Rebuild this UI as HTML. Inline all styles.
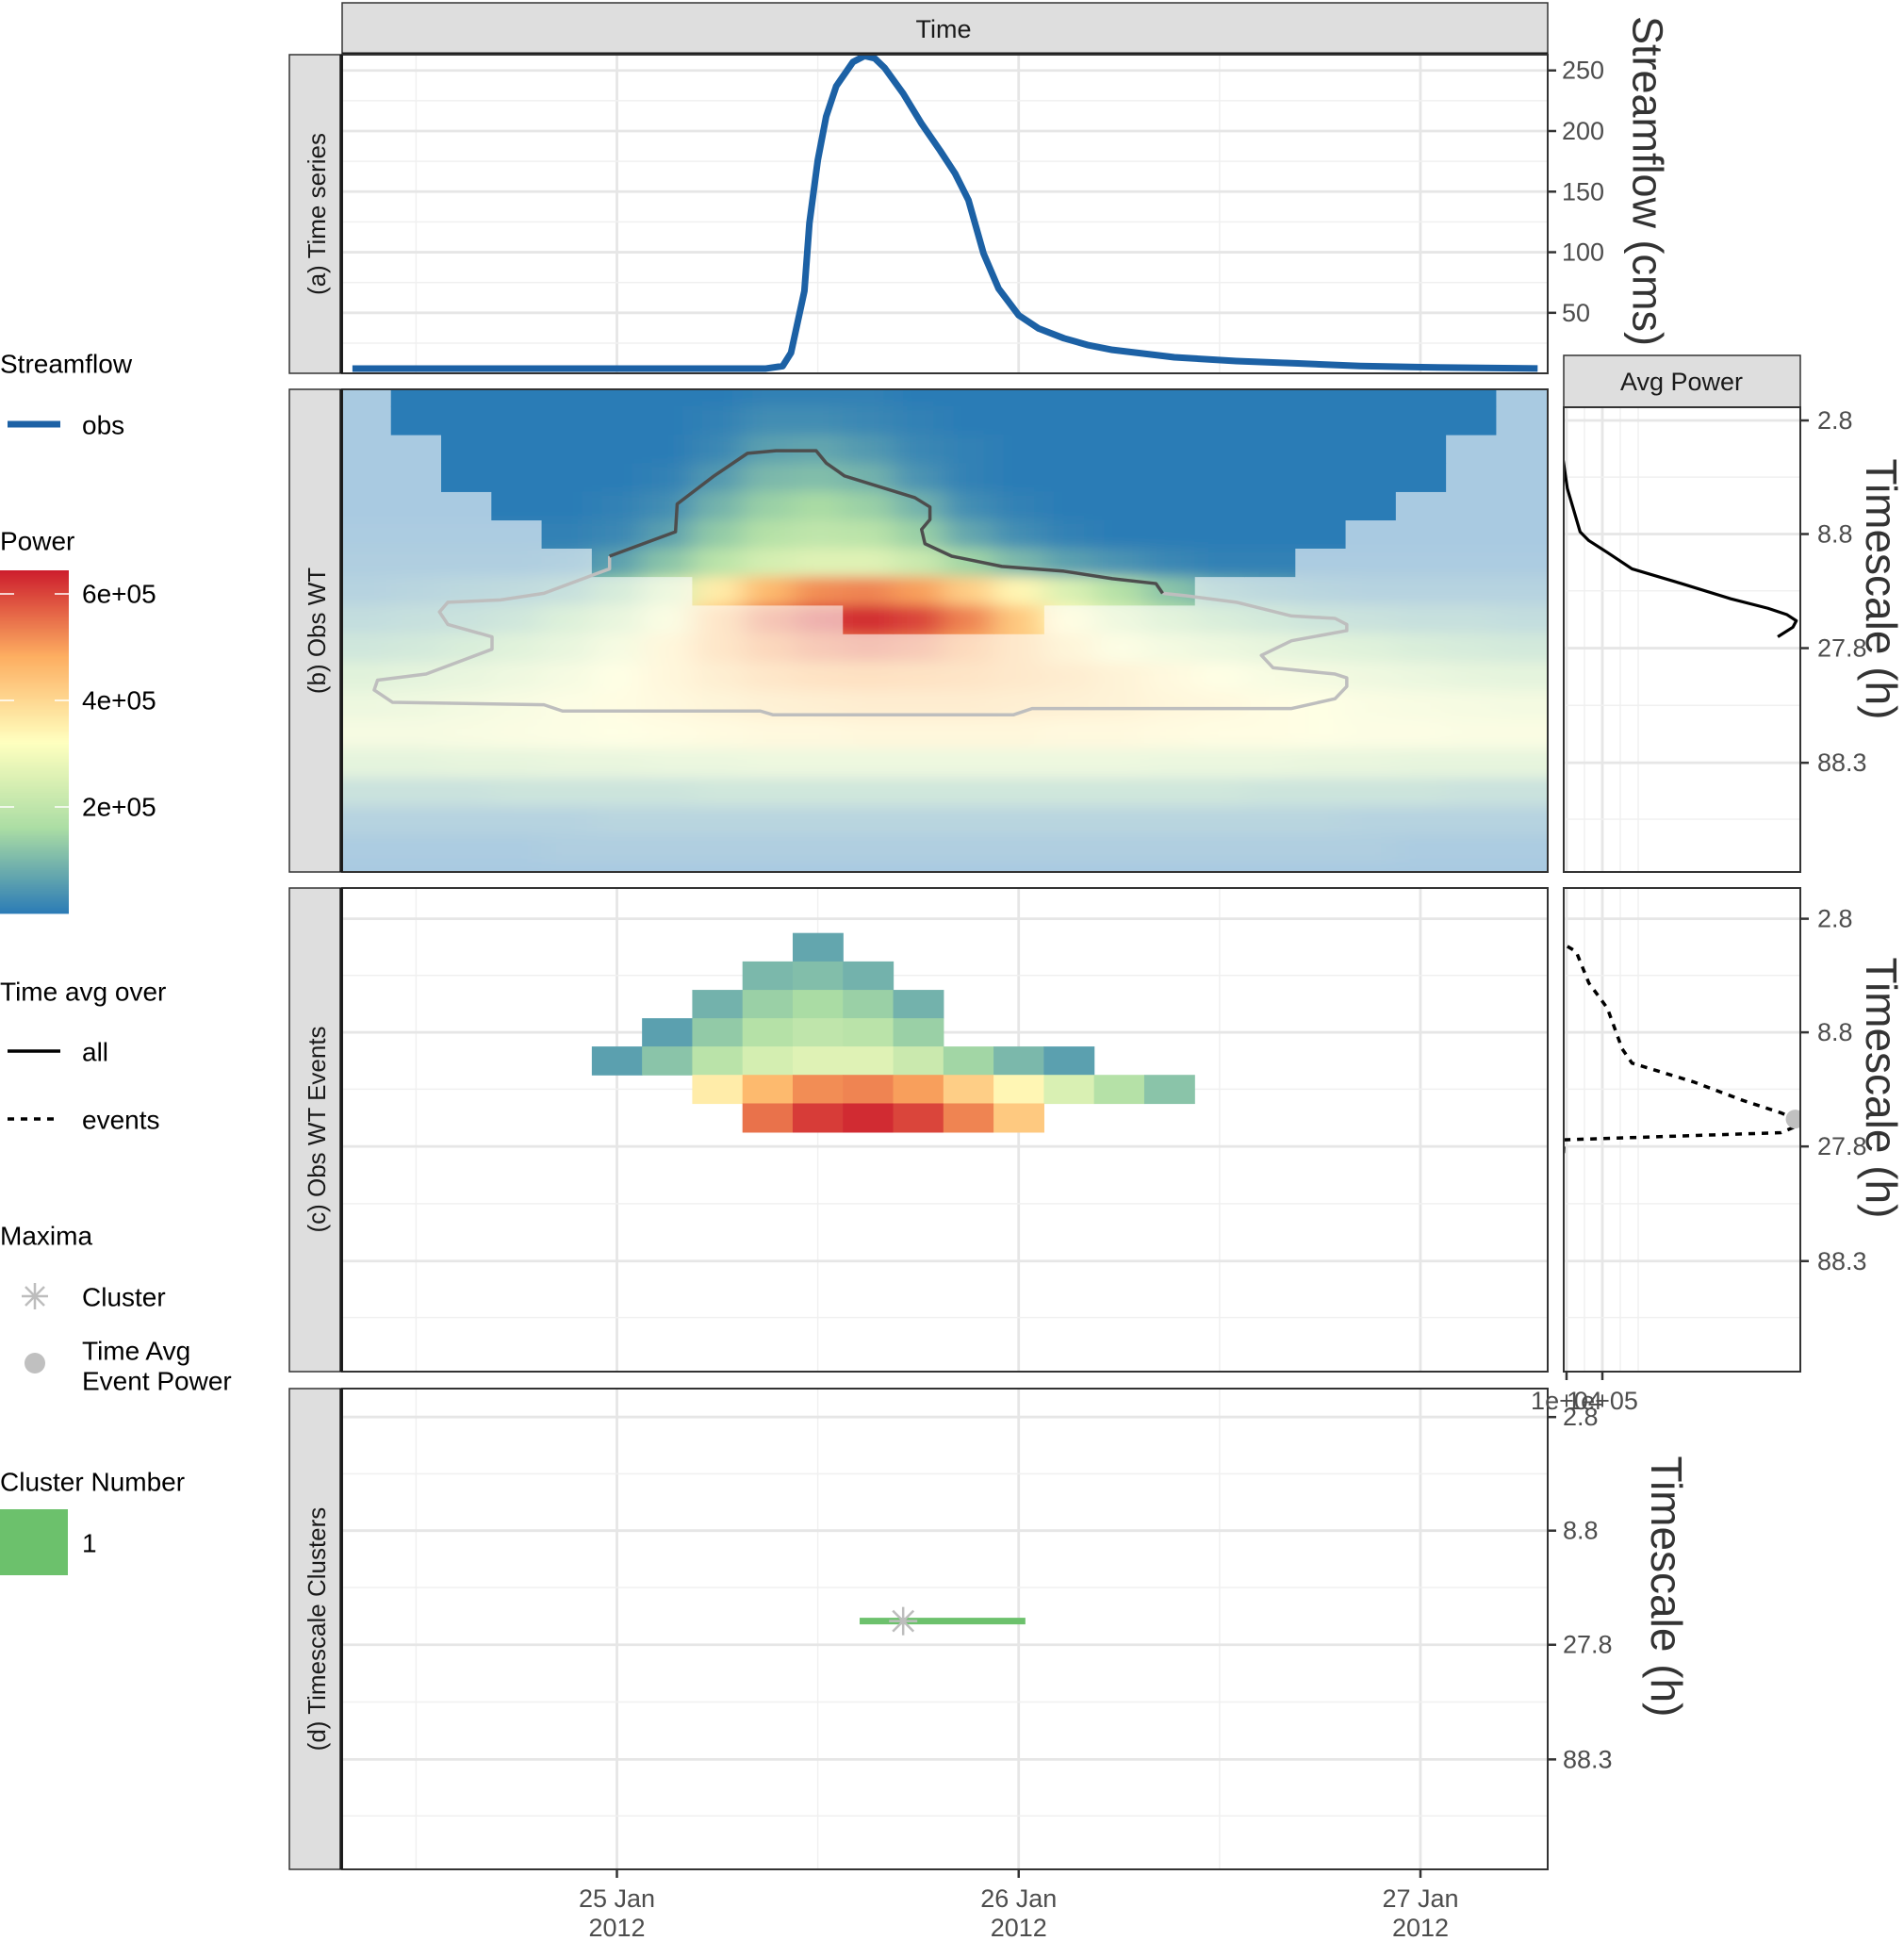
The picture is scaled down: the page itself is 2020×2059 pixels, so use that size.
<!DOCTYPE html>
<html><head><meta charset="utf-8"><style>
html,body{margin:0;padding:0;background:#fff;}
svg{display:block;font-family:"Liberation Sans",Arial,sans-serif;}
</style></head><body>
<svg id="chart" width="2020" height="2059" viewBox="0 0 2020 2059" xmlns="http://www.w3.org/2000/svg">
<defs>
<clipPath id="clipA"><rect x="363" y="58" width="1279" height="338"/></clipPath>
<clipPath id="clipB"><rect x="363" y="413" width="1279" height="512"/></clipPath>
<clipPath id="clipC"><rect x="363" y="942" width="1279" height="513"/></clipPath>
<clipPath id="clipD"><rect x="363" y="1473" width="1279" height="510"/></clipPath>
<clipPath id="clipAvgB"><rect x="1659" y="432" width="251" height="493"/></clipPath>
<clipPath id="clipAvgC"><rect x="1659" y="942" width="251" height="513"/></clipPath>
<clipPath id="coneB"></clipPath>
<filter id="blurB" filterUnits="userSpaceOnUse" x="250" y="300" width="1500" height="750"><feGaussianBlur stdDeviation="16 7"/></filter>
</defs>

<rect x="363" y="3" width="1279" height="55" fill="#dedede" stroke="#333" stroke-width="1.5"/>
<text x="1001" y="31" font-size="27" fill="#1a1a1a" text-anchor="middle" dominant-baseline="central">Time</text>
<line x1="363" y1="57" x2="1642" y2="57" stroke="#1a1a1a" stroke-width="3"/>

<rect x="307" y="58" width="56" height="338" fill="#dedede" stroke="#333" stroke-width="1.5"/>
<rect x="307" y="413" width="56" height="512" fill="#dedede" stroke="#333" stroke-width="1.5"/>
<rect x="307" y="942" width="56" height="513" fill="#dedede" stroke="#333" stroke-width="1.5"/>
<rect x="307" y="1473" width="56" height="510" fill="#dedede" stroke="#333" stroke-width="1.5"/>
<text transform="translate(336,227) rotate(-90)" font-size="26" fill="#1a1a1a" text-anchor="middle" dominant-baseline="central">(a)  Time series</text>
<text transform="translate(336,669) rotate(-90)" font-size="26" fill="#1a1a1a" text-anchor="middle" dominant-baseline="central">(b)  Obs WT</text>
<text transform="translate(336,1198) rotate(-90)" font-size="26" fill="#1a1a1a" text-anchor="middle" dominant-baseline="central">(c) Obs WT Events</text>
<text transform="translate(336,1728) rotate(-90)" font-size="26" fill="#1a1a1a" text-anchor="middle" dominant-baseline="central">(d) Timescale Clusters</text>

<rect x="1659" y="377" width="251" height="55" fill="#dedede" stroke="#333" stroke-width="1.5"/>
<text x="1784" y="405" font-size="27" fill="#1a1a1a" text-anchor="middle" dominant-baseline="central">Avg Power</text>

<g id="layer"></g>

<text transform="translate(1748,192) rotate(90)" font-size="45" fill="#333" text-anchor="middle" dominant-baseline="central">Streamflow (cms)</text>
<text transform="translate(1996,625) rotate(90)" font-size="46" fill="#333" text-anchor="middle" dominant-baseline="central">Timescale (h)</text>
<text transform="translate(1996,1154) rotate(90)" font-size="46" fill="#333" text-anchor="middle" dominant-baseline="central">Timescale (h)</text>
<text transform="translate(1768,1683) rotate(90)" font-size="46" fill="#333" text-anchor="middle" dominant-baseline="central">Timescale (h)</text>

<g font-size="28" fill="#000">
<text x="0" y="386" dominant-baseline="central">Streamflow</text>
<line x1="8" y1="450" x2="64" y2="450" stroke="#1c61a5" stroke-width="7"/>
<text x="87" y="451" dominant-baseline="central">obs</text>
<text x="0" y="574" dominant-baseline="central">Power</text>
<g id="colorbar"></g>
<text x="87" y="630" dominant-baseline="central">6e+05</text>
<text x="87" y="743" dominant-baseline="central">4e+05</text>
<text x="87" y="856" dominant-baseline="central">2e+05</text>
<text x="0" y="1052" dominant-baseline="central">Time avg over</text>
<line x1="8" y1="1115" x2="64" y2="1115" stroke="#000" stroke-width="3.5"/>
<text x="87" y="1116" dominant-baseline="central">all</text>
<line x1="8" y1="1187" x2="64" y2="1187" stroke="#000" stroke-width="3.5" stroke-dasharray="7 7"/>
<text x="87" y="1188" dominant-baseline="central">events</text>
<text x="0" y="1311" dominant-baseline="central">Maxima</text>
<g stroke="#bdbdbd" stroke-width="2.5">
<line x1="37" y1="1361" x2="37" y2="1389"/><line x1="23" y1="1375" x2="51" y2="1375"/><line x1="27" y1="1365" x2="47" y2="1385"/><line x1="27" y1="1385" x2="47" y2="1365"/></g>
<text x="87" y="1376" dominant-baseline="central">Cluster</text>
<circle cx="37" cy="1446" r="11" fill="#c0c0c0"/>
<text x="87" y="1433" dominant-baseline="central">Time Avg</text>
<text x="87" y="1465" dominant-baseline="central">Event Power</text>
<text x="0" y="1572" dominant-baseline="central">Cluster Number</text>
<rect x="0" y="1601" width="72" height="70" fill="#6cc16c"/>
<text x="87" y="1637" dominant-baseline="central">1</text>
</g>
</svg>
<script>
const flowHours = [-15.8,8.9,9.9,10.4,11.2,11.5,12.0,12.5,13.1,14.1,14.8,15.4,16.0,17.1,18.2,19.3,20.2,21.0,21.9,22.8,24.0,25.2,26.7,28.1,29.6,33.3,37.0,40.7,44.4,48.1,55.0];
const flowValues = [4,4,6,17,68,124,176,212,237,257,262,260,252,231,206,184,165,143,99,70,48,37,29,23.5,19.4,13.3,10.2,8.2,6.1,5.1,4.1];
const flowTicks = [50,100,150,200,250];
const scaleTicks = [2.8,8.8,27.8,88.3];
const scaleTickLabels = ["2.8","8.8","27.8","88.3"];
const dayTicks = [0,24,48];
const dayLabels = ["25 Jan","26 Jan","27 Jan"];
const colHours = [-15,-12,-9,-6,-3,0,3,6,9,12,15,18,21,24,27,30,33,36,39,42,45,48,51,54];
const rowScales = [2.1,2.8,3.73,4.97,6.62,8.8,11.7,15.6,20.8,27.8,37,49.3,65.7,88.3,118,157,209,279];
const power = [
[0,0,0,0,0,0,0,0,1,1,1,0,0,0,0,0,0,0,0,0,0,0,0,0],
[0,0,0,0,0,0,0,1,3,3,2,1,0,0,0,0,0,0,0,0,0,0,0,0],
[0,0,0,0,0,0,0,2,6,7,5,2,1,0,0,0,0,0,0,0,0,0,0,0],
[0,0,0,0,0,0,1,5,10,11,9,4,1,0,0,0,0,0,0,0,0,0,0,0],
[0,0,0,0,0,1,3,9,14,16,14,9,3,1,0,0,0,0,0,0,0,0,0,0],
[1,1,1,1,1,2,6,13,18,20,19,14,7,3,1,0,0,0,0,0,0,0,0,0],
[2,2,2,2,3,6,12,19,24,26,26,22,15,10,6,4,2,1,1,1,1,1,1,1],
[4,5,6,7,9,14,24,36,46,52,53,50,42,34,25,18,12,8,6,5,4,4,4,4],
[8,9,10,12,16,22,30,44,55,61,63,60,53,43,33,25,19,15,13,11,10,9,9,8],
[12,13,15,18,22,28,36,44,50,54,56,54,49,43,37,31,27,24,21,19,17,15,14,13],
[18,20,22,25,28,32,36,40,44,46,47,46,45,43,41,38,35,32,29,27,25,23,21,20],
[24,25,27,29,31,33,35,37,39,40,41,41,41,40,39,38,36,35,33,32,30,29,28,27],
[28,28,29,30,31,32,33,34,35,35,36,36,36,36,35,35,34,33,33,32,31,31,30,30],
[20,20,21,21,22,22,23,23,24,24,24,24,24,24,24,24,23,23,23,22,22,21,21,21],
[10,10,10,11,11,11,11,12,12,12,12,12,12,12,12,12,12,12,11,11,11,11,10,10],
[4,4,4,4,4,5,5,5,5,5,5,5,5,5,5,5,5,5,5,5,4,4,4,4],
[1,1,1,1,2,2,2,2,2,2,2,2,2,2,2,2,2,2,2,2,2,1,1,1],
[0,0,0,0,0,0,0,0,0,0,0,0,0,0,0,0,0,0,0,0,0,0,0,0]];
const coiScale = [1.0,3.1,5.3,7.5,9.6,11.8,13.9,16,18.2,20.4,22.5,24.7,24.7,22.6,20.4,18.3,16.1,14,11.8,9.6,7.5,5.4,3.2,1.1];
const eventMin = [99,99,99,99,99,10,8,5.5,4.5,3.6,3.8,6.3,11,11,11.5,13,14,99,99,99,99,99,99,99];
const eventMax = [0,0,0,0,0,13,14,17,21,22,24,26,25,21.5,19,18,17,0,0,0,0,0,0,0];
const eventContourH = [-0.44,3.5,3.6,5.8,7.8,9.5,11.9,12.5,13.6,17.8,18.7,18.7,18.2,18.4,20.0,23.0,26.7,29.6,32.2,32.6];
const eventContourS = [11.0,8.6,6.5,4.9,3.9,3.8,3.8,4.3,4.9,6.1,6.7,7.6,8.4,9.7,11.0,12.2,12.8,13.8,14.5,16.0];
const signifContourH = [-0.44,-0.44,-4.36,-6.94,-10.1,-10.6,-10.1,-7.46,-7.46,-11.4,-14.3,-14.5,-13.4,-4.36,-3.25,8.57,9.31,23.7,24.8,40.3,42.9,43.6,43.6,42.9,39.2,38.5,40.3,43.6,43.6,42.9,40.3,37.0,34.0,32.6];
const signifContourS = [11.0,12.5,16.0,17.1,17.5,19.3,21.9,24.8,28.1,36.1,38.4,42.4,48.0,49.2,52.4,52.4,54.4,54.4,51.1,51.1,46.3,40.9,37.5,36.1,33.9,29.9,25.8,23.3,21.9,20.6,20.1,17.5,16.4,16.0];
const avgAllScale = [2.47,4.07,5.56,6.7,8.6,9.4,10.6,12.5,14.5,16.9,18.6,19.8,21.1,22.5,24.8];
const avgAllPower = [4.9e3,6e3,1.1e4,1.9e4,3.3e4,5.5e4,1.2e5,2.45e5,6.3e5,1.19e6,1.73e6,2.04e6,2.21e6,2.15e6,1.89e6];
const avgEvtScale = [3.7,3.9,5.35,6.9,10.4,12.0,14.5,17.5,19.8,21.1,23.0,24.2,26.0,41.8,265];
const avgEvtPower = [1.1e4,2.5e4,5.5e4,1.2e5,1.9e5,2.45e5,7.5e5,1.36e6,1.94e6,2.19e6,2.15e6,1.94e6,7.2e3,4.9e3,4.9e3];
const avgTicks = [1e4,1e5];
const avgTickLabels = ["1e+04","1e+05"];
const clusterStartH = [14.5];
const clusterEndH = [24.4];
const clusterScale = [21.9];
const clusterMaxH = [17.1];
const eventMaxPower = [2.19e6];
const eventMaxScale = [21.1];

const NS = "http://www.w3.org/2000/svg";
const xT = h => 654.5 + 17.76*h;
const yQ = v => 396.1 - 1.2855*v;
const base = {b:446.0, c:974.6, d:1503.2};
const yS = (s,p) => base[p] + 242.3*Math.log10(s/2.8);
const xP = P => 1644.4 + 0.1758*Math.sqrt(P);
const PMAX = 64.4;
const stops = [[0,[43,123,182]],[0.25,[171,221,164]],[0.5,[255,255,191]],[0.75,[253,174,97]],[1,[205,30,45]]];
function col(v){
  let f = Math.max(0, Math.min(1, v/PMAX));
  for (let i=0;i<stops.length-1;i++){
    const [a,ca]=stops[i],[b,cb]=stops[i+1];
    if (f<=b){const t=(f-a)/(b-a);return "rgb("+ca.map((c,k)=>Math.round(c+(cb[k]-c)*t)).join(",")+")";}
  }
  return "rgb(205,30,45)";
}
function mk(tag, attrs, parent){
  const e=document.createElementNS(NS,tag);
  for(const k in attrs)e.setAttribute(k,attrs[k]);
  (parent||layer).appendChild(e);return e;
}
const layer=document.getElementById('layer');
const GMAJ="#e6e6e6", GMIN="#f0f0f0";

function rowEdges(i,p){
  const y=yS(rowScales[i],p);
  const up = i>0 ? (y - yS(rowScales[i-1],p))/2 : 15.1;
  const dn = i<rowScales.length-1 ? (yS(rowScales[i+1],p)-y)/2 : 15.1;
  return [y-up, y+dn];
}
function colEdges(j){
  let x0=xT(colHours[j]-1.5), x1=xT(colHours[j]+1.5);
  if(j===0)x0-=60; if(j===colHours.length-1)x1+=60;
  return [x0,x1];
}

function panelGrid(x0,y0,w,h,p,hasTime){
  mk('rect',{x:x0,y:y0,width:w,height:h,fill:'#fff'});
  const g=mk('g',{});
  if(hasTime){
    [-12,12,36].forEach(t=>mk('line',{x1:xT(t),x2:xT(t),y1:y0,y2:y0+h,stroke:GMIN,'stroke-width':1.5},g));
    dayTicks.forEach(t=>mk('line',{x1:xT(t),x2:xT(t),y1:y0,y2:y0+h,stroke:GMAJ,'stroke-width':2.8},g));
  }
  if(p){
    [4.96,15.6,49.5,156].forEach(s=>mk('line',{x1:x0,x2:x0+w,y1:yS(s,p),y2:yS(s,p),stroke:GMIN,'stroke-width':1.5},g));
    scaleTicks.forEach(s=>mk('line',{x1:x0,x2:x0+w,y1:yS(s,p),y2:yS(s,p),stroke:GMAJ,'stroke-width':2.8},g));
  }
  return g;
}
const gA = panelGrid(363,58,1279,338,null,true);


[25,75,125,175,225].forEach(v=>mk('line',{x1:363,x2:1642,y1:yQ(v),y2:yQ(v),stroke:GMIN,'stroke-width':1.5}));
flowTicks.forEach(v=>mk('line',{x1:363,x2:1642,y1:yQ(v),y2:yQ(v),stroke:GMAJ,'stroke-width':2.8}));
const flowPath = mk('polyline',{points:flowHours.map((h,i)=>xT(h)+","+yQ(flowValues[i])).join(" "),fill:'none',stroke:'#1c61a5','stroke-width':7,'stroke-linejoin':'round','clip-path':'url(#clipA)'});


flowTicks.forEach(v=>{
  mk('line',{x1:1642,x2:1651,y1:yQ(v),y2:yQ(v),stroke:'#333','stroke-width':2.5});
  const t=mk('text',{x:1657,y:yQ(v),'font-size':27,fill:'#4d4d4d','dominant-baseline':'central'});t.textContent=v;
  
  
});
mk('rect',{x:363,y:58,width:1279,height:338,fill:'none',stroke:'#333','stroke-width':2});

const gB = mk('g',{'clip-path':'url(#clipB)'});


mk('rect',{x:300,y:380,width:1400,height:600,fill:'#fff'},gB);
const faded = mk('g',{opacity:0.4,filter:'url(#blurB)'},gB);
const coneClip = document.getElementById('coneB');
const innerWrap = mk('g',{'clip-path':'url(#coneB)'},gB);
const inner = mk('g',{filter:'url(#blurB)'},innerWrap);
for(let i=0;i<rowScales.length;i++){
  let [ya,yb]=rowEdges(i,'b'); if(i===0)ya-=40; if(i===rowScales.length-1)yb+=40;
  for(let j=0;j<colHours.length;j++){
    const [xa,xb]=colEdges(j);
    const a={x:xa,y:ya,width:xb-xa+0.6,height:yb-ya+0.6,fill:col(power[i][j])};
    const c1=mk('rect',a,faded);
    
    
    mk('rect',a,inner);
    if(rowScales[i]<=coiScale[j]){
      const [ra,rb]=rowEdges(i,'b');
      const xa2=xT(colHours[j]-1.5), xb2=xT(colHours[j]+1.5);
      mk('rect',{x:xa2,y:(i===0?ra-40:ra),width:xb2-xa2+0.5,height:rb-(i===0?ra-40:ra)+0.5},coneClip);
    }
  }
}
const sig = mk('polyline',{points:signifContourH.map((h,i)=>xT(h)+","+yS(signifContourS[i],'b')).join(" "),fill:'none',stroke:'#bebebe','stroke-width':3.5,'stroke-linejoin':'round'},gB);


const evc = mk('polyline',{points:eventContourH.map((h,i)=>xT(h)+","+yS(eventContourS[i],'b')).join(" "),fill:'none',stroke:'#4d4d4d','stroke-width':3.5,'stroke-linejoin':'round'},gB);


mk('rect',{x:363,y:413,width:1279,height:512,fill:'none',stroke:'#333','stroke-width':2});

panelGrid(363,942,1279,513,'c',true);
const gC = mk('g',{'clip-path':'url(#clipC)'});


for(let i=0;i<rowScales.length;i++){
  const [ya,yb]=rowEdges(i,'c');
  for(let j=0;j<colHours.length;j++){
    if(rowScales[i]>=eventMin[j] && rowScales[i]<=eventMax[j]){
      const xa=xT(colHours[j]-1.5), xb=xT(colHours[j]+1.5);
      const r=mk('rect',{x:xa,y:ya,width:xb-xa+0.6,height:yb-ya+0.6,fill:col(power[i][j])},gC);
      
      
    }
  }
}
mk('rect',{x:363,y:942,width:1279,height:513,fill:'none',stroke:'#333','stroke-width':2});

panelGrid(363,1473,1279,510,'d',true);
for(let k=0;k<clusterStartH.length;k++){
  const cl=mk('line',{x1:xT(clusterStartH[k]),x2:xT(clusterEndH[k]),y1:yS(clusterScale[k],'d'),y2:yS(clusterScale[k],'d'),stroke:'#6cc16c','stroke-width':7});
  
  
  const cx=xT(clusterMaxH[k]), cy=yS(clusterScale[k],'d');
  const st=mk('g',{stroke:'#bdbdbd','stroke-width':2.5});
  
  
  mk('line',{x1:cx,x2:cx,y1:cy-15,y2:cy+15},st);
  mk('line',{x1:cx-15,x2:cx+15,y1:cy,y2:cy},st);
  mk('line',{x1:cx-11,x2:cx+11,y1:cy-11,y2:cy+11},st);
  mk('line',{x1:cx-11,x2:cx+11,y1:cy+11,y2:cy-11},st);
}
mk('rect',{x:363,y:1473,width:1279,height:510,fill:'none',stroke:'#333','stroke-width':2});

[[58,396],[413,925],[942,1455],[1473,1983]].forEach(([a,b])=>mk('line',{x1:362,x2:362,y1:a,y2:b,stroke:'#1a1a1a','stroke-width':3.5}));

function scaleAxis(p,x,lab){
  scaleTicks.forEach((s,i)=>{
    mk('line',{x1:x,x2:x+9,y1:yS(s,p),y2:yS(s,p),stroke:'#333','stroke-width':2.5});
    const t=mk('text',{x:lab,y:yS(s,p),'font-size':27,fill:'#4d4d4d','dominant-baseline':'central'});
    t.textContent=scaleTickLabels[i];
    
    
  });
}
scaleAxis('d',1642,1658);

dayTicks.forEach((t,i)=>{
  mk('line',{x1:xT(t),x2:xT(t),y1:1983,y2:1992,stroke:'#333','stroke-width':2.5});
  const a=mk('text',{x:xT(t),y:2014,'font-size':27,fill:'#4d4d4d','text-anchor':'middle','dominant-baseline':'central'});a.textContent=dayLabels[i];
  
  
  const b=mk('text',{x:xT(t),y:2045,'font-size':27,fill:'#4d4d4d','text-anchor':'middle','dominant-baseline':'central'});b.textContent="2012";
  
  
});

function avgPanel(y0,h,p){
  mk('rect',{x:1659,y:y0,width:251,height:h,fill:'#fff'});
  [1681,1719,1738].forEach(x=>mk('line',{x1:x,x2:x,y1:y0,y2:y0+h,stroke:GMIN,'stroke-width':1.5}));
  avgTicks.forEach(P=>mk('line',{x1:xP(P),x2:xP(P),y1:y0,y2:y0+h,stroke:GMAJ,'stroke-width':2.8}));
  [4.96,15.6,49.5,156].forEach(s=>mk('line',{x1:1659,x2:1910,y1:yS(s,p),y2:yS(s,p),stroke:GMIN,'stroke-width':1.5}));
  scaleTicks.forEach(s=>mk('line',{x1:1659,x2:1910,y1:yS(s,p),y2:yS(s,p),stroke:GMAJ,'stroke-width':2.8}));
}
avgPanel(432,493,'b');
const aAll=mk('polyline',{points:avgAllScale.map((s,i)=>xP(avgAllPower[i])+","+yS(s,'b')).join(" "),fill:'none',stroke:'#000','stroke-width':3.2,'stroke-linejoin':'round','clip-path':'url(#clipAvgB)'});


mk('rect',{x:1659,y:432,width:251,height:493,fill:'none',stroke:'#333','stroke-width':2});
scaleAxis('b',1910,1928);

avgPanel(942,513,'c');
const aEv=mk('polyline',{points:avgEvtScale.map((s,i)=>xP(avgEvtPower[i])+","+yS(s,'c')).join(" "),fill:'none',stroke:'#000','stroke-width':3.5,'stroke-dasharray':'7 7','clip-path':'url(#clipAvgC)'});


const dot=mk('circle',{cx:xP(eventMaxPower[0]),cy:yS(eventMaxScale[0],'c'),r:10,fill:'#c0c0c0','clip-path':'url(#clipAvgC)'});


mk('rect',{x:1659,y:942,width:251,height:513,fill:'none',stroke:'#333','stroke-width':2});
scaleAxis('c',1910,1928);
avgTicks.forEach((P,i)=>{
  mk('line',{x1:xP(P),x2:xP(P),y1:1455,y2:1464,stroke:'#333','stroke-width':2.5});
  const t=mk('text',{x:xP(P),y:1486,'font-size':27,fill:'#4d4d4d','text-anchor':'middle','dominant-baseline':'central'});
  t.textContent=avgTickLabels[i];
  
  
});

const cb=document.getElementById('colorbar');
for(let k=0;k<182;k++){
  const y0=969-k*2;
  const v=(969-(y0-1))/113*20;
  mk('rect',{x:0,y:y0-2,width:73,height:2.4,fill:col(v)},cb);
}
[630,743,856].forEach(y=>{mk('line',{x1:0,x2:15,y1:y,y2:y,stroke:'#fff','stroke-width':1.5},cb);mk('line',{x1:58,x2:73,y1:y,y2:y,stroke:'#fff','stroke-width':1.5},cb);});
</script>
</body></html>
